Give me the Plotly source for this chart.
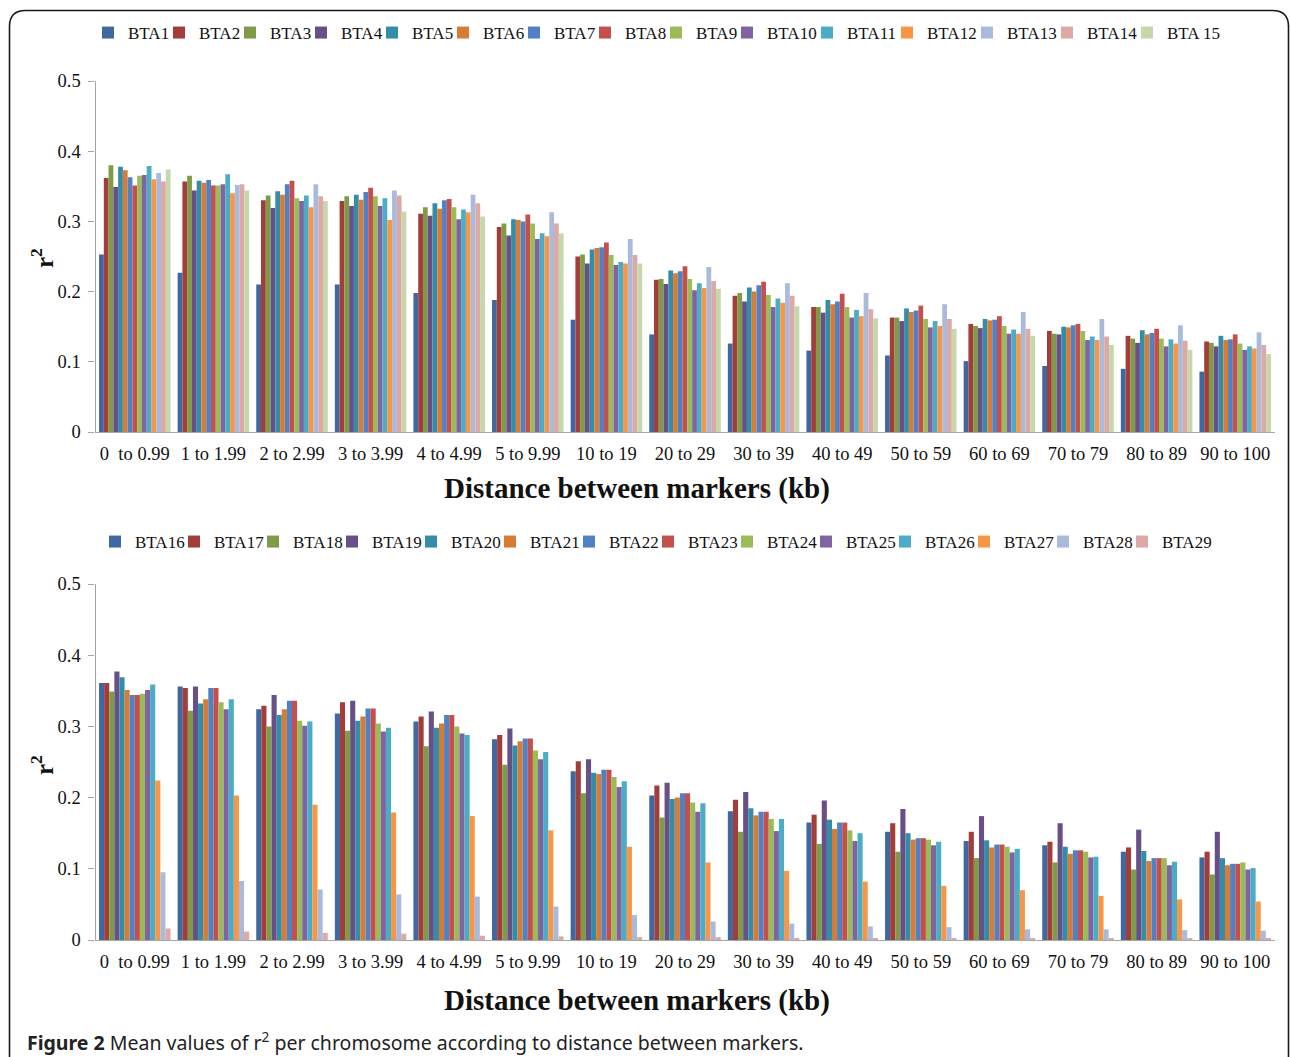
import plotly.graph_objects as go

W, H = 1290, 1057

categories = ["0 \u00a0to 0.99", "1 to 1.99", "2 to 2.99", "3 to 3.99", "4 to 4.99", "5 to 9.99",
              "10 to 19", "20 to 29", "30 to 39", "40 to 49", "50 to 59", "60 to 69",
              "70 to 79", "80 to 89", "90 to 100"]

# Top panel (BTA1 - BTA15)
bta1 = [0.253, 0.227, 0.210, 0.210, 0.198, 0.188, 0.160, 0.139, 0.126, 0.116, 0.109, 0.101, 0.094, 0.090, 0.086]
bta2 = [0.362, 0.357, 0.330, 0.329, 0.311, 0.292, 0.250, 0.217, 0.194, 0.178, 0.163, 0.154, 0.144, 0.137, 0.129]
bta3 = [0.380, 0.365, 0.337, 0.336, 0.320, 0.297, 0.253, 0.218, 0.198, 0.178, 0.163, 0.151, 0.140, 0.133, 0.127]
bta4 = [0.349, 0.344, 0.319, 0.322, 0.308, 0.280, 0.240, 0.211, 0.186, 0.170, 0.158, 0.148, 0.139, 0.127, 0.122]
bta5 = [0.378, 0.358, 0.343, 0.338, 0.326, 0.303, 0.260, 0.230, 0.206, 0.188, 0.176, 0.161, 0.150, 0.145, 0.137]
bta6 = [0.373, 0.355, 0.338, 0.331, 0.318, 0.302, 0.262, 0.226, 0.200, 0.182, 0.171, 0.159, 0.149, 0.139, 0.131]
bta7 = [0.363, 0.359, 0.353, 0.342, 0.330, 0.300, 0.263, 0.229, 0.209, 0.186, 0.173, 0.160, 0.152, 0.141, 0.132]
bta8 = [0.351, 0.351, 0.358, 0.348, 0.332, 0.310, 0.270, 0.236, 0.214, 0.197, 0.180, 0.165, 0.154, 0.147, 0.139]
bta9 = [0.365, 0.351, 0.333, 0.336, 0.320, 0.297, 0.252, 0.218, 0.195, 0.178, 0.161, 0.151, 0.144, 0.133, 0.126]
bta10 = [0.366, 0.353, 0.329, 0.322, 0.303, 0.275, 0.238, 0.202, 0.178, 0.163, 0.149, 0.140, 0.131, 0.122, 0.117]
bta11 = [0.379, 0.367, 0.337, 0.333, 0.317, 0.283, 0.242, 0.212, 0.190, 0.174, 0.158, 0.146, 0.136, 0.132, 0.122]
bta12 = [0.360, 0.340, 0.320, 0.302, 0.313, 0.279, 0.240, 0.205, 0.184, 0.165, 0.151, 0.140, 0.131, 0.126, 0.119]
bta13 = [0.369, 0.352, 0.353, 0.344, 0.338, 0.313, 0.275, 0.235, 0.212, 0.198, 0.182, 0.171, 0.161, 0.152, 0.142]
bta14 = [0.357, 0.353, 0.336, 0.337, 0.326, 0.297, 0.252, 0.215, 0.194, 0.175, 0.161, 0.147, 0.136, 0.130, 0.124]
bta15 = [0.374, 0.344, 0.329, 0.314, 0.307, 0.283, 0.240, 0.204, 0.179, 0.162, 0.147, 0.137, 0.124, 0.117, 0.111]

# Bottom panel (BTA16 - BTA29)
bta16 = [0.361, 0.356, 0.324, 0.318, 0.307, 0.282, 0.237, 0.203, 0.181, 0.165, 0.152, 0.139, 0.133, 0.124, 0.116]
bta17 = [0.361, 0.354, 0.329, 0.334, 0.314, 0.288, 0.251, 0.217, 0.197, 0.176, 0.164, 0.152, 0.138, 0.130, 0.124]
bta18 = [0.349, 0.322, 0.300, 0.294, 0.272, 0.246, 0.206, 0.172, 0.152, 0.135, 0.124, 0.115, 0.109, 0.099, 0.092]
bta19 = [0.377, 0.356, 0.344, 0.336, 0.321, 0.297, 0.254, 0.221, 0.208, 0.196, 0.184, 0.174, 0.164, 0.155, 0.152]
bta20 = [0.369, 0.332, 0.316, 0.308, 0.298, 0.273, 0.235, 0.198, 0.185, 0.169, 0.150, 0.140, 0.131, 0.125, 0.115]
bta21 = [0.351, 0.338, 0.324, 0.314, 0.304, 0.279, 0.233, 0.200, 0.175, 0.156, 0.141, 0.130, 0.121, 0.111, 0.105]
bta22 = [0.344, 0.354, 0.336, 0.325, 0.316, 0.283, 0.239, 0.206, 0.180, 0.165, 0.143, 0.134, 0.126, 0.115, 0.107]
bta23 = [0.344, 0.354, 0.336, 0.325, 0.316, 0.283, 0.239, 0.206, 0.180, 0.165, 0.143, 0.134, 0.126, 0.115, 0.107]
bta24 = [0.346, 0.334, 0.308, 0.304, 0.300, 0.266, 0.229, 0.193, 0.170, 0.154, 0.141, 0.131, 0.124, 0.115, 0.109]
bta25 = [0.351, 0.324, 0.301, 0.293, 0.290, 0.254, 0.215, 0.180, 0.153, 0.139, 0.133, 0.123, 0.116, 0.105, 0.099]
bta26 = [0.359, 0.338, 0.307, 0.298, 0.288, 0.264, 0.223, 0.192, 0.170, 0.150, 0.138, 0.128, 0.117, 0.110, 0.101]
bta27 = [0.224, 0.203, 0.190, 0.179, 0.174, 0.154, 0.131, 0.109, 0.097, 0.082, 0.076, 0.070, 0.062, 0.057, 0.054]
bta28 = [0.095, 0.083, 0.071, 0.064, 0.061, 0.047, 0.035, 0.026, 0.023, 0.019, 0.018, 0.015, 0.015, 0.014, 0.013]
bta29 = [0.016, 0.012, 0.010, 0.009, 0.006, 0.005, 0.004, 0.004, 0.002, 0.002, 0.002, 0.002, 0.002, 0.002, 0.002]

top_names = ["BTA1", "BTA2", "BTA3", "BTA4", "BTA5", "BTA6", "BTA7", "BTA8", "BTA9",
             "BTA10", "BTA11", "BTA12", "BTA13", "BTA14", "BTA 15"]
top_values = [bta1, bta2, bta3, bta4, bta5, bta6, bta7, bta8, bta9, bta10, bta11, bta12, bta13, bta14, bta15]
bottom_names = ["BTA16", "BTA17", "BTA18", "BTA19", "BTA20", "BTA21", "BTA22", "BTA23",
                "BTA24", "BTA25", "BTA26", "BTA27", "BTA28", "BTA29"]
bottom_values = [bta16, bta17, bta18, bta19, bta20, bta21, bta22, bta23, bta24, bta25, bta26, bta27, bta28, bta29]

x_title = "<b>Distance between markers (kb)</b>"
y_title = "<b>r<sup>2</sup></b>"
caption = "<b>Figure 2</b> Mean values of r<sup>2</sup> per chromosome according to distance between markers."

colors = ["#3F67A1", "#A23D3A", "#7F9B48", "#674F87", "#338DA8", "#D77C35", "#4F81C4",
          "#C4504D", "#9BBB59", "#8064A2", "#4BACC6", "#F79646", "#A9BADB", "#DCA9A7", "#C5D7AB"]

SERIF = "Liberation Serif"

def py(pix):
    return 1 - pix / H

def px(pix):
    return pix / W

fig = go.Figure()

n_top = len(top_names)
for i, (n, v) in enumerate(zip(top_names, top_values)):
    lw = 26 if len(n) <= 4 else 35
    if i == n_top - 1:
        lw = 70
    fig.add_trace(go.Bar(x=categories, y=v, name=n, marker=dict(color=colors[i], line=dict(width=0)),
                         xaxis="x", yaxis="y", legend="legend", legendwidth=lw))

n_bot = len(bottom_names)
for i, (n, v) in enumerate(zip(bottom_names, bottom_values)):
    lw = 70 if i == n_bot - 1 else 34
    fig.add_trace(go.Bar(x=categories, y=v, name=n, marker=dict(color=colors[i], line=dict(width=0)),
                         xaxis="x2", yaxis="y2", legend="legend2", legendwidth=lw))

xdom = [px(95.5), px(1274.5)]
axis_line = "#A6A6A6"
tickfont = dict(family=SERIF, size=18.5, color="#111")

common_x = dict(domain=xdom, showline=True, linecolor=axis_line, linewidth=1.3, showgrid=False,
                ticks="", tickfont=tickfont, automargin=False, ticklabelstandoff=5, fixedrange=True)
common_y = dict(range=[0, 0.5], dtick=0.1, showline=True, linecolor=axis_line, linewidth=1.3,
                showgrid=False, zeroline=False, ticks="outside", ticklen=6, tickcolor=axis_line,
                tickfont=tickfont, automargin=False, ticklabelstandoff=4, tickformat="~g",
                fixedrange=True)

legend_font = dict(family=SERIF, size=17, color="#111")

fig.update_layout(
    width=W, height=H,
    margin=dict(l=0, r=0, t=0, b=0),
    paper_bgcolor="white", plot_bgcolor="white",
    barmode="group", bargap=0.09, bargroupgap=0,
    xaxis=dict(common_x, anchor="y"),
    yaxis=dict(common_y, domain=[py(432), py(81)], anchor="x"),
    xaxis2=dict(common_x, anchor="y2"),
    yaxis2=dict(common_y, domain=[py(940), py(584)], anchor="x2"),
    legend=dict(orientation="h", x=px(88), xanchor="left", y=py(33), yanchor="middle",
                font=legend_font, itemwidth=30, bgcolor="rgba(0,0,0,0)", traceorder="normal"),
    legend2=dict(orientation="h", x=px(95), xanchor="left", y=py(542), yanchor="middle",
                 font=legend_font, itemwidth=30, bgcolor="rgba(0,0,0,0)", traceorder="normal"),
    showlegend=True,
)

# Axis titles (centred as in the reference, slightly left of the plot centre)
for yy in (489, 1000):
    fig.add_annotation(text=x_title, x=px(637), y=py(yy), xref="paper", yref="paper",
                       xanchor="center", yanchor="middle", showarrow=False,
                       font=dict(family=SERIF, size=29, color="#111"))
for yy in (258, 765):
    fig.add_annotation(text=y_title, x=px(42), y=py(yy), xref="paper", yref="paper",
                       xanchor="center", yanchor="middle", showarrow=False, textangle=-90,
                       font=dict(family=SERIF, size=25, color="#111"))

# Rounded frame around the figure
x0, x1 = px(9.5), px(1288.5)
yt = py(10.5)
rx, ry = px(16), 16 / H
frame = (f"M {x0},0 L {x0},{yt - ry} Q {x0},{yt} {x0 + rx},{yt} "
         f"L {x1 - rx},{yt} Q {x1},{yt} {x1},{yt - ry} L {x1},0")
fig.add_shape(type="path", path=frame, xref="paper", yref="paper",
              line=dict(color="#1a1a1a", width=1.6))

fig.add_annotation(
    text=caption, x=px(25), y=py(1041), xref="paper", yref="paper", xanchor="left", yanchor="middle",
    showarrow=False, font=dict(family="Noto Sans", size=19.5, color="#222"))

fig.write_html("out.html", config={"displayModeBar": False},
               post_script="document.body.style.margin='0px';")
